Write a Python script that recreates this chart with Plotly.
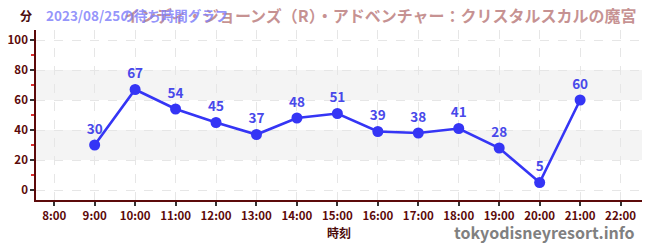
import plotly.graph_objects as go

hours = [9, 10, 11, 12, 13, 14, 15, 16, 17, 18, 19, 20, 21]
waits = [30, 67, 54, 45, 37, 48, 51, 39, 38, 41, 28, 5, 60]
tick_vals = list(range(8, 23))
tick_text = [f"{h}:00" for h in tick_vals]
title_main = "インディ・ジョーンズ（R）・アドベンチャー：クリスタルスカルの魔宮"
title_date = "2023/08/25の待ち時間グラフ"

FONT = "Noto Sans CJK JP"
AX = "#5c0a0a"

fig = go.Figure()
fig.add_trace(go.Scatter(
    x=hours, y=waits, mode="lines+markers+text",
    line=dict(color="#3535f5", width=2.6),
    marker=dict(color="#3535f5", size=11),
    text=[str(v) for v in waits], textposition="top center",
    textfont=dict(family=FONT, size=13.5, color="#4848ea", weight="bold"),
    hoverinfo="skip", cliponaxis=False,
))

for lo, hi in [(20, 40), (60, 80)]:
    fig.add_shape(type="rect", xref="paper", yref="y", x0=0, x1=1, y0=lo, y1=hi,
                  fillcolor="#f4f4f4", line=dict(width=0), layer="below")

fig.update_layout(
    width=650, height=250,
    margin=dict(l=31, r=8, t=30, b=50),
    paper_bgcolor="white", plot_bgcolor="white",
    showlegend=False,
    font=dict(family=FONT),
    xaxis=dict(
        range=[7.55, 22.53], tickvals=tick_vals, ticktext=tick_text,
        showgrid=True, gridcolor="#e6e6e6", griddash="dash", gridwidth=1,
        showline=True, linecolor=AX, linewidth=1.5,
        ticks="outside", ticklen=4, tickcolor="#333", tickwidth=1.5,
        tickfont=dict(family=FONT, size=11.5, color=AX, weight="bold"),
        zeroline=False, fixedrange=True,
    ),
    yaxis=dict(
        range=[-6.67, 106.67], tickvals=[0, 20, 40, 60, 80, 100],
        showgrid=True, gridcolor="#e6e6e6", griddash="dash", gridwidth=1,
        showline=True, linecolor=AX, linewidth=1.5,
        ticks="outside", ticklen=4, tickcolor="#333", tickwidth=1.5,
        minor=dict(tickvals=[10, 30, 50, 70, 90], ticks="outside", ticklen=3,
                   tickcolor="#e03030", showgrid=False),
        tickfont=dict(family=FONT, size=11.5, color=AX, weight="bold"),
        zeroline=False, fixedrange=True,
    ),
    annotations=[
        dict(text=title_main, xref="paper", yref="paper", x=0.569, y=1.0, yshift=15,
             xanchor="center", yanchor="middle", showarrow=False,
             font=dict(family=FONT, size=16, color="rgba(180,110,110,0.75)", weight="bold")),
        dict(text=title_date, xref="paper", yref="paper", x=0.0, xshift=8, y=1.0, yshift=15,
             xanchor="left", yanchor="middle", showarrow=False,
             font=dict(family=FONT, size=13.5, color="rgba(130,130,250,0.85)", weight="bold")),
        dict(text="分", xref="paper", yref="paper", x=0, xshift=-10, y=1.0, yshift=15,
             xanchor="center", yanchor="middle", showarrow=False,
             font=dict(family=FONT, size=12, color="#4a0a0a", weight="bold")),
        dict(text="時刻", xref="paper", yref="paper", x=0.5, y=0, yshift=-32,
             xanchor="center", yanchor="middle", showarrow=False,
             font=dict(family=FONT, size=12, color="#4a0a0a", weight="bold")),
        dict(text="tokyodisneyresort.info", xref="paper", yref="paper", x=1, xshift=-5, y=0, yshift=-32,
             xanchor="right", yanchor="middle", showarrow=False,
             font=dict(family=FONT, size=16, color="#808080", weight="bold")),
    ],
)

fig.write_html("out.html")
